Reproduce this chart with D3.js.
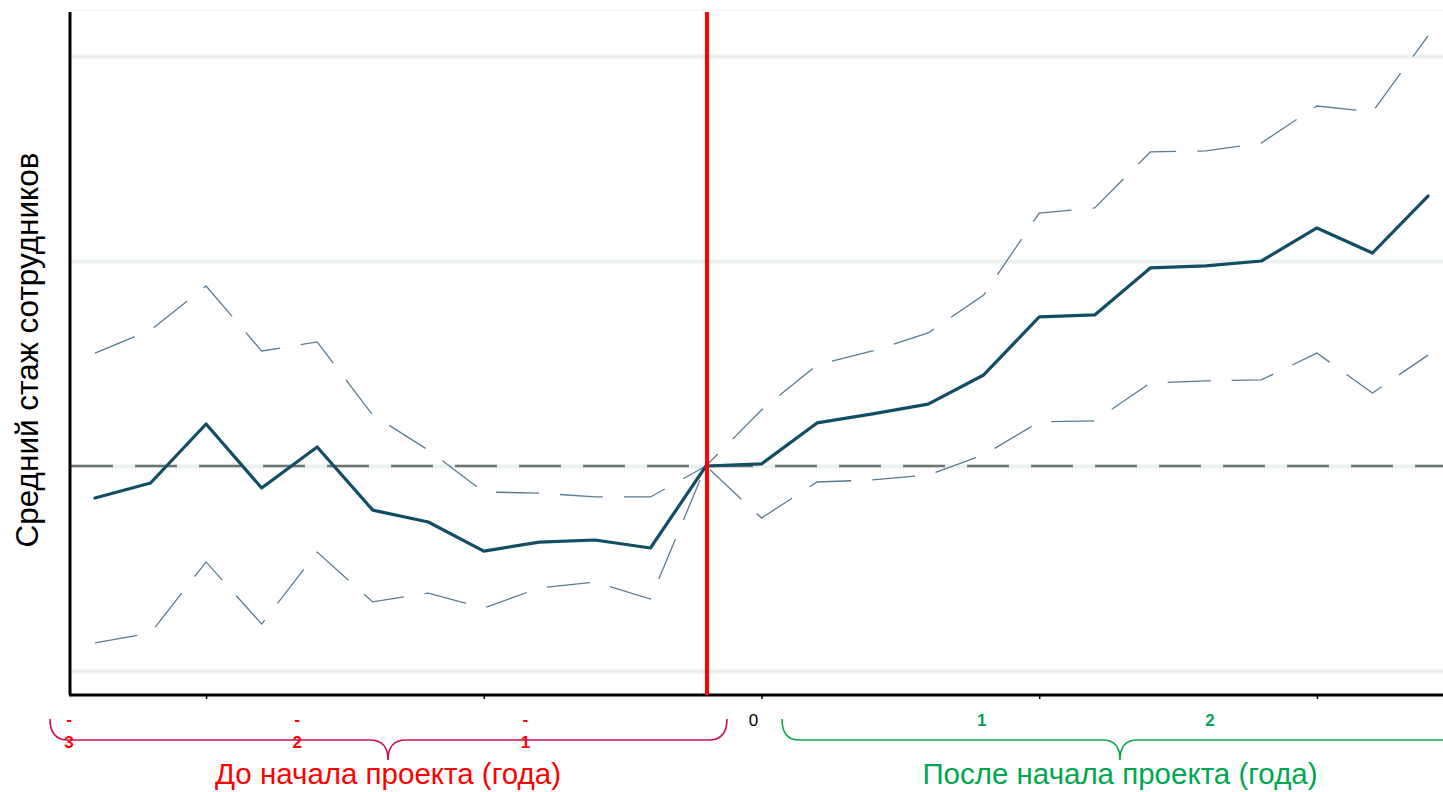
<!DOCTYPE html>
<html>
<head>
<meta charset="utf-8">
<script src="https://cdn.jsdelivr.net/npm/d3@7"></script>
<style>
  html, body { margin: 0; padding: 0; background: #fff; }
  svg { display: block; font-family: "Liberation Sans", Arial, sans-serif; }
</style>
</head>
<body>
<svg id="chart" width="1443" height="792"></svg>
<script>
// ---- data ----
const periods = [-11,-10,-9,-8,-7,-6,-5,-4,-3,-2,-1,0,1,2,3,4,5,6,7,8,9,10,11,12,13];
const meanValues = [-0.156,-0.083,0.205,-0.107,0.093,-0.215,-0.273,-0.415,-0.371,-0.361,-0.400,0,
                    0.010,0.210,0.254,0.302,0.444,0.727,0.737,0.966,0.976,1.000,1.161,1.039,1.317];
const upperValues = [0.551,0.663,0.878,0.561,0.605,0.249,0.078,-0.127,-0.132,-0.151,-0.151,0,
                     0.273,0.493,0.561,0.649,0.834,1.234,1.259,1.532,1.537,1.576,1.756,1.727,2.098];
const lowerValues = [-0.863,-0.815,-0.468,-0.771,-0.420,-0.663,-0.620,-0.693,-0.595,-0.566,-0.649,0,
                     -0.254,-0.078,-0.068,-0.044,0.054,0.215,0.220,0.405,0.415,0.420,0.551,0.356,0.541];
const gridValues = [-1, 0, 1, 2];
const xTickValues = [-9, -4, 1, 6, 11];
const yearValues = [-3, -2, -1, 0, 1, 2];
const yearLabels = ["-3", "-2", "-1", "0", "1", "2"];
const yLabel = "Средний стаж сотрудников";
const beforeLabel = "До начала проекта (года)";
const afterLabel = "После начала проекта (года)";

// ---- layout ----
const svg = d3.select("#chart");
const W = 1443;
const axisLeftX = 70, axisBottomY = 695, plotTop = 12;

const x = d3.scaleLinear().domain([-11, 13]).range([95, 1428]);
const y = d3.scaleLinear().domain([-1, 2]).range([671, 56]);
const yearX = d3.scaleLinear().domain([-3, 2]).range([69, 1210]);

// top border line
svg.append("line").attr("x1", axisLeftX).attr("x2", W).attr("y1", 10).attr("y2", 10)
  .attr("stroke", "#eef3f1").attr("stroke-width", 1);

// gridlines
const grid = svg.append("g").attr("transform", `translate(${axisLeftX},0)`)
  .call(d3.axisLeft(y).tickValues(gridValues).tickSize(-(W - axisLeftX)).tickFormat(""));
grid.select(".domain").remove();
grid.selectAll(".tick line").attr("stroke", "#ebf1ef").attr("stroke-width", 4);

// zero dashed line
svg.append("line").attr("x1", axisLeftX + 1).attr("x2", W).attr("y1", y(0)).attr("y2", y(0))
  .attr("stroke", "#6b7373").attr("stroke-width", 2.5).attr("stroke-dasharray", "42,22");

// confidence lines
const line = d3.line().x((d, i) => x(periods[i])).y(d => y(d));
[upperValues, lowerValues].forEach(vals => {
  svg.append("path").datum(vals).attr("d", line)
    .attr("fill", "none").attr("stroke", "#587c92").attr("stroke-width", 1.3)
    .attr("stroke-dasharray", "43,21");
});

// mean line
svg.append("path").datum(meanValues).attr("d", line)
  .attr("fill", "none").attr("stroke", "#124d66").attr("stroke-width", 3.2)
  .attr("stroke-linejoin", "round").attr("stroke-linecap", "round");

// x axis ticks
const xa = svg.append("g").attr("transform", `translate(0,${axisBottomY})`)
  .call(d3.axisBottom(x).tickValues(xTickValues).tickSize(4).tickFormat(""));
xa.select(".domain").remove();
xa.selectAll(".tick line").attr("stroke", "#000").attr("stroke-width", 1.5);

// axes lines
svg.append("line").attr("x1", axisLeftX - 1).attr("x2", W).attr("y1", axisBottomY).attr("y2", axisBottomY)
  .attr("stroke", "#000").attr("stroke-width", 3);
svg.append("line").attr("x1", axisLeftX).attr("x2", axisLeftX).attr("y1", plotTop).attr("y2", axisBottomY)
  .attr("stroke", "#000").attr("stroke-width", 3);

// red vertical line at period 0
svg.append("line").attr("x1", x(0) + 1).attr("x2", x(0) + 1).attr("y1", plotTop).attr("y2", axisBottomY)
  .attr("stroke", "#ff0000").attr("stroke-width", 4);

// year labels
yearValues.forEach((v, i) => {
  const lab = yearLabels[i];
  const color = v < 0 ? "#ff0000" : (v > 0 ? "#00a650" : "#000");
  const t = svg.append("text").attr("x", yearX(v)).attr("text-anchor", "middle")
    .attr("fill", color).attr("font-size", 17)
    .attr("font-weight", v === 0 ? "normal" : "bold");
  if (v < 0) {
    t.append("tspan").attr("x", yearX(v)).attr("y", 725).text(lab[0]);
    t.append("tspan").attr("x", yearX(v)).attr("y", 748).text(lab.slice(1));
  } else {
    t.attr("y", 726).text(lab);
  }
});

// braces
function brace(x1, x2, xm, yTop, yMid, yTip, r) {
  return `M${x1},${yTop} Q${x1},${yMid} ${x1 + r},${yMid} L${xm - r},${yMid} ` +
         `Q${xm},${yMid} ${xm},${yTip} Q${xm},${yMid} ${xm + r},${yMid} ` +
         `L${x2 - r},${yMid} Q${x2},${yMid} ${x2},${yTop}`;
}
svg.append("path").attr("d", brace(50, 727, 388, 719, 740, 760, 18))
  .attr("fill", "none").attr("stroke", "#cc1148").attr("stroke-width", 1.6);
svg.append("path").attr("d", brace(782, 1460, 1120, 719, 740, 760, 17))
  .attr("fill", "none").attr("stroke", "#0aa84e").attr("stroke-width", 1.6);

// group titles
svg.append("text").attr("x", 388).attr("y", 784).attr("text-anchor", "middle")
  .attr("fill", "#ff0000").attr("font-size", 29.5).text(beforeLabel);
svg.append("text").attr("x", 1120).attr("y", 784).attr("text-anchor", "middle")
  .attr("fill", "#00a650").attr("font-size", 29.5).text(afterLabel);

// y label
svg.append("text").attr("transform", "translate(38,350) rotate(-90)").attr("text-anchor", "middle")
  .attr("fill", "#000").attr("font-size", 31.5).text(yLabel);
</script>
</body>
</html>
